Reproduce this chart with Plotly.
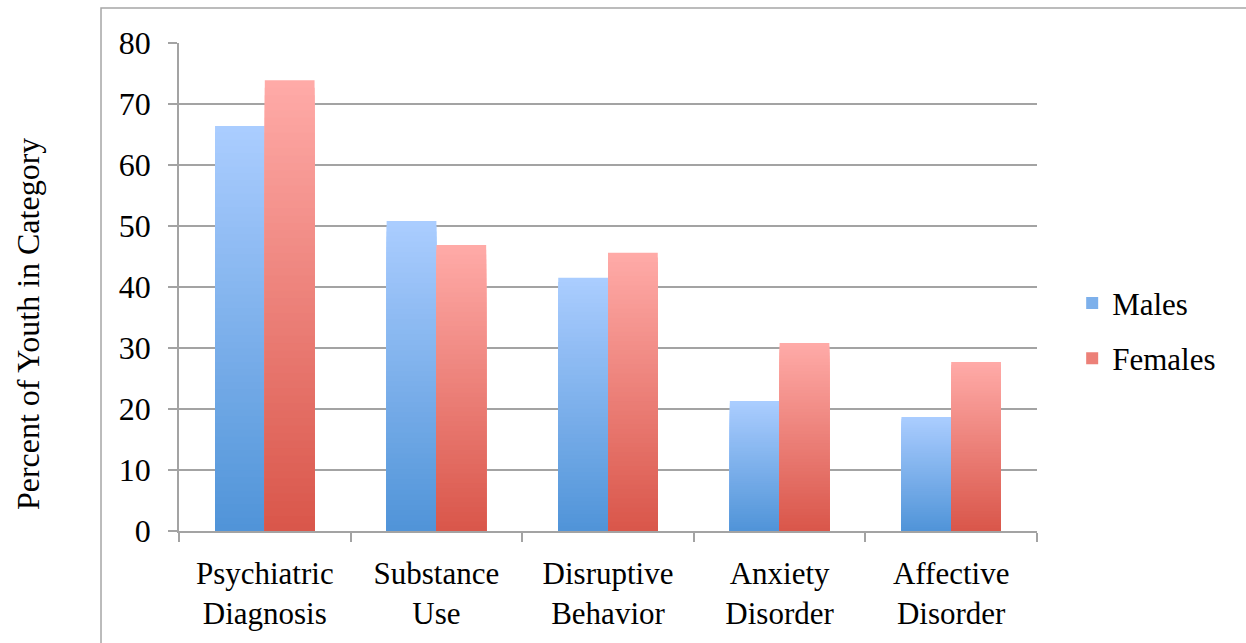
import plotly.graph_objects as go

# Data
categories = ["Psychiatric<br>Diagnosis", "Substance<br>Use", "Disruptive<br>Behavior",
              "Anxiety<br>Disorder", "Affective<br>Disorder"]
males = [66.4, 50.8, 41.5, 21.3, 18.7]
females = [73.9, 46.9, 45.6, 30.8, 27.7]
y_title = "Percent of Youth in Category"

# Gradient end colours (bottom -> top) for each series
male_bottom, male_top = (80, 148, 216), (171, 205, 255)
female_bottom, female_top = (217, 86, 74), (255, 171, 168)

N_STEPS = 60
FONT = "Liberation Serif"
GRID = "#a3a3a3"


def mix(c0, c1, t):
    return "rgb({},{},{})".format(*[round(a + (b - a) * t) for a, b in zip(c0, c1)])


fig = go.Figure()


def add_gradient_series(name, values, c_bottom, c_top, group):
    # nested bars from the full value downwards, each shorter one drawn on top,
    # giving a vertical gradient from dark (bottom) to light (top)
    for j in range(N_STEPS):
        frac = (N_STEPS - j) / N_STEPS
        t = (N_STEPS - j - 0.5) / N_STEPS
        fig.add_trace(go.Bar(
            x=categories,
            y=[v * frac for v in values],
            offsetgroup=group,
            legendgroup=group,
            name=name,
            showlegend=(j == N_STEPS // 2),
            marker=dict(color=mix(c_bottom, c_top, t), line=dict(width=0)),
            hoverinfo="skip",
        ))


add_gradient_series("Males", males, male_bottom, male_top, "m")
add_gradient_series("Females", females, female_bottom, female_top, "f")

fig.update_layout(
    width=1246, height=643,
    margin=dict(l=179, r=209, t=43, b=112),
    paper_bgcolor="white", plot_bgcolor="white",
    barmode="group", bargap=0.42, bargroupgap=0,
    font=dict(family=FONT, size=31, color="black"),
    showlegend=True,
    legend=dict(x=1.041, y=0.41, xanchor="left", yanchor="middle",
                font=dict(family=FONT, size=31), tracegroupgap=12,
                itemwidth=30, bgcolor="rgba(0,0,0,0)"),
    shapes=[dict(type="rect", xref="paper", yref="paper",
                 x0=-0.0909, x1=1.5, y0=-0.5, y1=1.0717,
                 line=dict(color="#a6a6a6", width=1.5), layer="below")],
    annotations=[dict(text=y_title, textangle=-90, xref="paper", yref="paper",
                      x=-0.176, y=0.424, xanchor="center", yanchor="middle",
                      showarrow=False, font=dict(family=FONT, size=32))],
)

fig.update_xaxes(
    showline=True, linecolor=GRID, linewidth=1.5,
    ticks="outside", ticklen=9, tickcolor=GRID, tickwidth=1.5,
    tickson="boundaries", showgrid=False,
    tickfont=dict(family=FONT, size=31), ticklabelstandoff=14,
)
fig.update_yaxes(
    range=[0, 80], dtick=10, tick0=0,
    showline=True, linecolor=GRID, linewidth=1.5,
    ticks="outside", ticklen=9, tickcolor=GRID, tickwidth=1.5,
    showgrid=True, gridcolor=GRID, gridwidth=1.5, zeroline=False,
    tickfont=dict(family=FONT, size=32), ticklabelstandoff=11,
)

fig.write_html("out.html")
